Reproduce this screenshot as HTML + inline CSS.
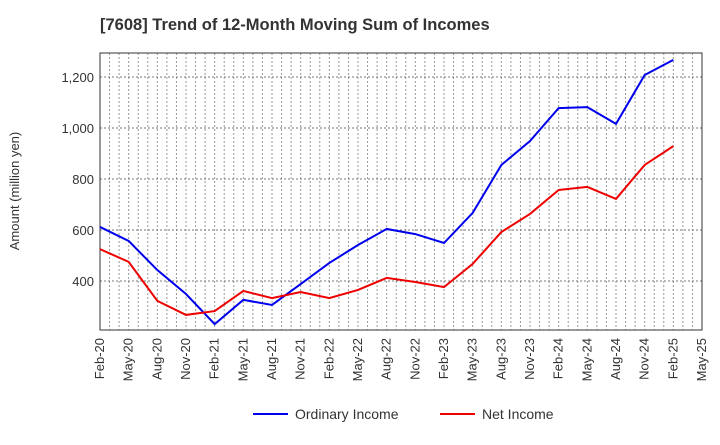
<!DOCTYPE html>
<html><head><meta charset="utf-8"><style>
body{margin:0;background:#fff;font-family:"Liberation Sans",sans-serif}
</style></head><body>
<svg id="c" width="720" height="440" xmlns="http://www.w3.org/2000/svg" font-family="Liberation Sans, sans-serif">
<text x="100" y="30" font-size="16.5" font-weight="bold" fill="#333">[7608]  Trend of 12-Month Moving Sum of Incomes</text>
<g id="grid"></g><g id="axes"></g><g id="series"></g>
<text transform="translate(19,191) rotate(-90)" text-anchor="middle" font-size="13" fill="#333">Amount (million yen)</text>
<g>
<line x1="253" y1="414" x2="288" y2="414" stroke="#0000ee" stroke-width="2"/>
<text x="295" y="419" font-size="14" fill="#333">Ordinary Income</text>
<line x1="440" y1="414" x2="475" y2="414" stroke="#ee0000" stroke-width="2"/>
<text x="482" y="419" font-size="14" fill="#333">Net Income</text>
</g>
</svg>
<script>
const xLabels=["Feb-20","May-20","Aug-20","Nov-20","Feb-21","May-21","Aug-21","Nov-21","Feb-22","May-22","Aug-22","Nov-22","Feb-23","May-23","Aug-23","Nov-23","Feb-24","May-24","Aug-24","Nov-24","Feb-25","May-25"];
const yTicks=[400,600,800,1000,1200];
const ordinary=[612,557,443,349,231,326,306,388,471,541,604,584,549,667,855,949,1078,1082,1016,1208,1267];
const net=[525,475,322,267,282,361,333,357,333,365,412,396,376,467,592,663,757,769,722,855,929];
const L=100,R=702,T=53,B=330,N=xLabels.length-1;
const X=i=>L+(R-L)*i/N;
const Y=v=>77+(1200-v)*0.255;
const ns="http://www.w3.org/2000/svg";
function mk(p,t,a){const e=document.createElementNS(ns,t);for(const k in a)e.setAttribute(k,a[k]);p.appendChild(e);return e;}
const g=document.getElementById('grid'),ax=document.getElementById('axes'),s=document.getElementById('series');
for(let m=1;m<N*3;m++){const x=L+(R-L)*m/(N*3);
const l=mk(g,'line',{x1:x,y1:T,x2:x,y2:B,stroke:'#999','stroke-dasharray':'2,2','stroke-width':1});
}
yTicks.forEach(v=>{const y=Y(v);
const l=mk(g,'line',{x1:L,y1:y,x2:R,y2:y,stroke:'#777','stroke-dasharray':'2,2','stroke-width':1});

const t=mk(ax,'text',{x:L-6,y:y+5,'text-anchor':'end','font-size':13,fill:'#333'});t.textContent=v.toLocaleString('en-US');
});
const f=mk(ax,'rect',{x:L,y:T,width:R-L,height:B-T,fill:'none',stroke:'#333','stroke-width':1});

xLabels.forEach((lb,i)=>{const x=X(i);
const t=mk(ax,'text',{transform:`translate(${x+4},${B+8}) rotate(-90)`,'text-anchor':'end','font-size':13,fill:'#333'});t.textContent=lb;
});
function line(d,c,n){const p=mk(s,'polyline',{points:d.map((v,i)=>X(i)+','+Y(v)).join(' '),fill:'none',stroke:c,'stroke-width':2});
}
line(ordinary,'#0000ee','ordinary-income-line');
line(net,'#ee0000','net-income-line');
</script>
</body></html>
